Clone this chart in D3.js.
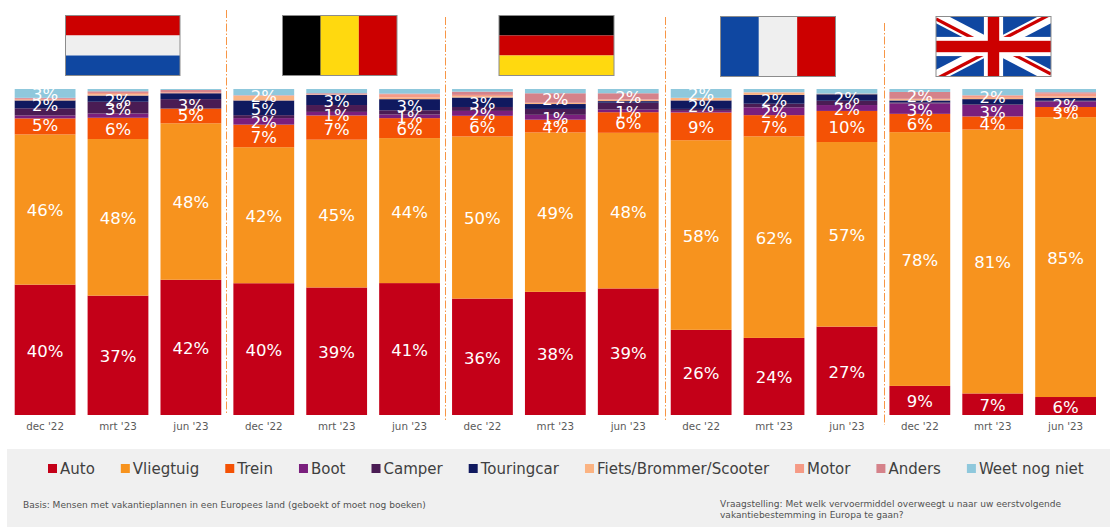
<!DOCTYPE html>
<html><head><meta charset="utf-8">
<script src="https://cdn.jsdelivr.net/npm/d3@7"></script>
<style>html,body{margin:0;padding:0;background:#fff}svg{display:block}text{font-family:"DejaVu Sans",sans-serif}</style>
</head><body><svg id="c" width="1110" height="527"></svg>
<script>
const periods = ["dec '22","mrt '23","jun '23"];
const countries = ["NL","BE","DE","FR","UK"];
const seriesNames = ["Auto","Vliegtuig","Trein","Boot","Camper","Touringcar","Fiets/Brommer/Scooter","Motor","Anders","Weet nog niet"];
const seriesColors = ["#c40018","#f7931e","#f45205","#7a1f7d","#4a1c54","#10195f","#fbb382","#f59a85","#d5828a","#8fc8dc"];
const auto    = [39.9,36.5,41.4,40.3,39.0,40.3,35.6,37.7,38.7,26.1,23.6,27.0,8.9,6.6,5.5];
const vlieg   = [46.0,47.9,47.9,41.6,45.2,44.3,49.6,48.8,47.6,58.1,61.7,56.4,77.6,80.8,85.6];
const trein   = [4.9,6.5,4.5,6.9,7.4,6.1,6.3,3.9,6.3,8.5,6.5,9.5,5.6,4.0,3.1];
const boot    = [0.9,1.3,0,2.0,1.1,1.1,1.5,1.5,0.8,0.5,2.4,1.8,3.2,3.5,1.7];
const camper  = [2.2,3.6,2.9,0.9,2.1,1.3,1.2,1.8,2.1,0.6,1.1,1.3,0.3,0.2,0.2];
const touring = [2.4,1.9,1.8,4.5,3.1,3.4,2.9,1.5,0.5,2.6,2.7,2.0,0.6,1.6,0.9];
const fiets   = [0.2,0.4,0,1.4,0.1,0.5,0.4,0.3,0.4,0.8,0.7,0.1,0.4,0.4,0.4];
const motor   = [0.3,0.4,0.3,0.1,0.1,1.0,0.4,0.1,0.1,0,0.1,0,0.1,0.7,0.9];
const anders  = [0.3,0.5,0.7,0.1,0.3,0.2,1.0,2.9,1.9,0,0,0.1,2.1,0.1,0.4];
const weet    = [2.7,0.7,0.3,1.9,1.3,1.4,0.8,1.3,1.3,2.7,1.0,1.4,0.9,1.9,1.0];
const seriesValues = [auto,vlieg,trein,boot,camper,touring,fiets,motor,anders,weet];
const _ = null;
const lblAuto    = [40,37,42,40,39,41,36,38,39,26,24,27,9,7,6];
const lblVlieg   = [46,48,48,42,45,44,50,49,48,58,62,57,78,81,85];
const lblTrein   = [5,6,5,7,7,6,6,4,6,9,7,10,6,4,3];
const lblBoot    = [_,_,_,2,1,1,2,1,1,_,2,2,3,3,2];
const lblCamper  = [_,3,3,_,_,_,_,_,_,_,_,_,_,_,_];
const lblTouring = [2,2,_,5,3,3,3,_,_,2,2,2,_,_,_];
const lblNone    = [_,_,_,_,_,_,_,_,_,_,_,_,_,_,_];
const lblAnders  = [_,_,_,_,_,_,_,2,2,_,_,_,2,_,_];
const lblWeet    = [3,_,_,2,_,_,_,_,_,2,_,_,_,2,_];
const seriesLabels = [lblAuto,lblVlieg,lblTrein,lblBoot,lblCamper,lblTouring,lblNone,lblNone,lblAnders,lblWeet];
const basisText = "Basis: Mensen met vakantieplannen in een Europees land (geboekt of moet nog boeken)";
const vraagLines = ["Vraagstelling: Met welk vervoermiddel overweegt u naar uw eerstvolgende","vakantiebestemming in Europa te gaan?"];

const svg = d3.select("#c");
const idx = d3.range(auto.length);
const x = d3.scaleBand().domain(idx).range([14.7,1096]).paddingInner(0.166).paddingOuter(0);
const y = d3.scaleLinear().domain([0,1]).range([415,89]);
const rows = idx.map(i=>{const r={};seriesNames.forEach((s,k)=>r[s]=seriesValues[k][i]);return r;});
const stacked = d3.stack().keys(seriesNames).offset(d3.stackOffsetExpand)(rows);

svg.append("rect").attr("x",7).attr("y",449).attr("width",1103).attr("height",78).attr("fill","#f0f0f0");

svg.append("g").selectAll("g").data(stacked).join("g").attr("fill",(d,i)=>seriesColors[i])
  .selectAll("rect").data(d=>d).join("rect")
  .attr("x",(d,i)=>x(i)).attr("width",x.bandwidth())
  .attr("y",d=>y(d[1])).attr("height",d=>Math.max(0,y(d[0])-y(d[1])));

// A few labels in the reference were moved by hand off their segment centre.
const labelNudge = (k,i)=> {
  if (k===9 && i===13) return 3.5;
  if (k===9 && i===3) return 3;
  if (k===2 && (i===0 || i===2)) return -2;
  return 0;
};
stacked.forEach((s,k)=>{
  svg.append("g").selectAll("text").data(s.map((d,i)=>({d,i,l:seriesLabels[k][i]})).filter(o=>o.l!==null)).join("text")
    .attr("x",o=>x(o.i)+x.bandwidth()/2)
    .attr("y",o=>(y(o.d[0])+y(o.d[1]))/2+labelNudge(k,o.i)).attr("dy","0.42em")
    .attr("text-anchor","middle").attr("fill","#fff").attr("font-size",16.5)
    .text(o=>o.l+"%");
});

const ax = d3.axisBottom(x).tickSize(0).tickPadding(8).tickFormat(i=>periods[i%3]);
const axG = svg.append("g").attr("transform","translate(0,415)").call(ax);
axG.select(".domain").remove();
axG.selectAll("text").attr("font-size",10.3).attr("fill","#595959").style("font-family",'"DejaVu Sans",sans-serif');

const seps=[[226.5,10,415],[445.5,17,420],[665.5,17,420],[884.5,23,425]];
svg.append("g").selectAll("line").data(seps).join("line")
  .attr("x1",d=>d[0]).attr("x2",d=>d[0]).attr("y1",d=>d[1]).attr("y2",d=>d[2])
  .attr("stroke","#f79646").attr("stroke-width",1).attr("stroke-dasharray","8 2 1.5 2");

const RED="#cc0000",WHITE="#efefef",BLUE="#0f47a1",BLACK="#000",YEL="#ffd90f";
function flag(xp,yp,w,h,type,cols){
  const g=svg.append("g").attr("transform",`translate(${xp},${yp})`);
  if(type==="h") cols.forEach((c,i)=>g.append("rect").attr("y",i*h/3).attr("width",w).attr("height",h/3).attr("fill",c));
  if(type==="v") cols.forEach((c,i)=>g.append("rect").attr("x",i*w/3).attr("width",w/3).attr("height",h).attr("fill",c));
  if(type==="uk"){
    g.append("clipPath").attr("id","ukclip").append("rect").attr("width",w).attr("height",h);
    const u=g.append("g").attr("clip-path","url(#ukclip)");
    u.append("rect").attr("width",w).attr("height",h).attr("fill",BLUE);
    [[0,0,w,h],[w,0,0,h]].forEach(l=>u.append("line").attr("x1",l[0]).attr("y1",l[1]).attr("x2",l[2]).attr("y2",l[3]).attr("stroke","#fff").attr("stroke-width",h*0.2));
    const off=2.5;
    [[0,0,off],[w,0,-off],[w,h,-off],[0,h,off]].forEach(l=>u.append("line")
      .attr("x1",l[0]).attr("y1",l[1]+l[2]).attr("x2",w/2).attr("y2",h/2+l[2])
      .attr("stroke",RED).attr("stroke-width",h*0.055));
    u.append("rect").attr("x",w/2-h*0.16).attr("width",h*0.32).attr("height",h).attr("fill","#fff");
    u.append("rect").attr("y",h/2-h*0.16).attr("width",w).attr("height",h*0.32).attr("fill","#fff");
    u.append("rect").attr("x",w/2-h*0.095).attr("width",h*0.19).attr("height",h).attr("fill",RED);
    u.append("rect").attr("y",h/2-h*0.095).attr("width",w).attr("height",h*0.19).attr("fill",RED);
  }
  g.append("rect").attr("width",w).attr("height",h).attr("fill","none").attr("stroke","#8c8c8c").attr("stroke-width",1);
}
flag(65.5,15.5,114.5,60,"h",[RED,WHITE,BLUE]);
flag(282.5,15.5,114.5,60,"v",[BLACK,YEL,RED]);
flag(499,15.5,115,60,"h",[BLACK,RED,YEL]);
flag(720.5,16.5,115,60,"v",[BLUE,WHITE,RED]);
flag(936,16.5,115,60,"uk",[]);

let lx=48;
const lg=svg.append("g");
seriesNames.forEach((n,i)=>{
  lg.append("rect").attr("x",lx).attr("y",464).attr("width",9).attr("height",9).attr("fill",seriesColors[i]);
  const t=lg.append("text").attr("x",lx+12).attr("y",474).attr("font-size",15).attr("fill","#404040").text(n);
  lx+=12+t.node().getComputedTextLength()+26;
});

svg.append("text").attr("x",23).attr("y",508).attr("font-size",9.05).attr("fill","#505050").text(basisText);
svg.append("g").selectAll("text").data(vraagLines).join("text").attr("x",720).attr("y",(d,i)=>507+i*11)
  .attr("font-size",9.05).attr("fill","#505050").text(d=>d);
</script></body></html>
